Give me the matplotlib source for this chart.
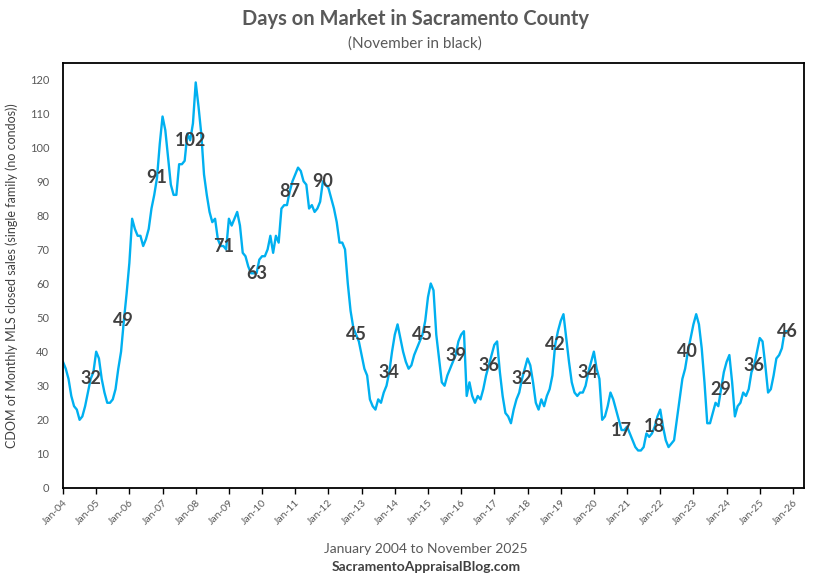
import matplotlib
matplotlib.use("Agg")
import matplotlib.pyplot as plt
import numpy as np

plt.rcParams['font.family'] = ['Lato', 'DejaVu Sans']

# monthly CDOM, Jan 2004 .. Nov 2025
y2004 = [37, 35, 32, 27, 24, 23, 20, 21, 24, 28, 32, 34]
y2005 = [40, 38, 32, 28, 25, 25, 26, 29, 35, 40, 49, 57]
y2006 = [66, 79, 76, 74, 74, 71, 73, 76, 82, 86, 91, 101]
y2007 = [109, 105, 97, 89, 86, 86, 95, 95, 96, 104, 102, 107]
y2008 = [119, 112, 104, 92, 86, 81, 78, 79, 73, 71, 71, 70]
y2009 = [79, 77, 79, 81, 77, 69, 68, 65, 63, 63, 63, 67]
y2010 = [68, 68, 70, 74, 69, 74, 72, 82, 83, 83, 87, 90]
y2011 = [92, 94, 93, 90, 89, 82, 83, 81, 82, 84, 90, 89]
y2012 = [88, 85, 82, 78, 72, 72, 70, 60, 52, 47, 45, 43]
y2013 = [39, 35, 33, 26, 24, 23, 26, 25, 28, 30, 34, 40]
y2014 = [45, 48, 44, 40, 37, 35, 36, 39, 41, 43, 45, 49]
y2015 = [56, 60, 58, 45, 38, 31, 30, 33, 35, 37, 39, 43]
y2016 = [45, 46, 27, 31, 27, 25, 27, 26, 29, 33, 36, 39]
y2017 = [42, 43, 34, 27, 22, 21, 19, 23, 26, 28, 32, 35]
y2018 = [38, 36, 31, 25, 23, 26, 24, 27, 29, 33, 42, 46]
y2019 = [49, 51, 44, 37, 31, 28, 27, 28, 28, 30, 34, 37]
y2020 = [40, 35, 32, 20, 21, 24, 28, 26, 23, 20, 17, 17]
y2021 = [18, 16, 14, 12, 11, 11, 12, 16, 15, 16, 18, 21]
y2022 = [23, 18, 14, 12, 13, 14, 20, 26, 32, 35, 40, 44]
y2023 = [48, 51, 48, 41, 31, 19, 19, 22, 25, 24, 29, 34]
y2024 = [37, 39, 31, 21, 24, 25, 28, 27, 29, 34, 36, 40]
y2025 = [44, 43, 36, 28, 29, 33, 38, 39, 41, 46, 46]

dom = (y2004 + y2005 + y2006 + y2007 + y2008 + y2009 + y2010 + y2011 +
       y2012 + y2013 + y2014 + y2015 + y2016 + y2017 + y2018 + y2019 +
       y2020 + y2021 + y2022 + y2023 + y2024 + y2025)
years = list(range(2004, 2027))
tick_labels = ['Jan-%02d' % (y % 100) for y in years]

months = np.arange(len(dom))
nov_idx = [i for i in months if i % 12 == 10]

fig = plt.figure(figsize=(8.3, 5.79), dpi=100)
ax = fig.add_axes([0.0759, 0.1572, 0.8928, 0.734])

ax.plot(months, dom, color='#00B0F0', linewidth=1.7)

for i in nov_idx:
    ax.text(i, dom[i], str(dom[i]), ha='center', va='center',
            fontsize=13, fontweight='bold', color='#404040')

ax.set_xlim(0, 268)
ax.set_ylim(0, 124.7)
ax.set_yticks(range(0, 121, 10))
ax.set_xticks([(y - 2004) * 12 for y in years])
ax.set_xticklabels(tick_labels, rotation=45, ha='right', rotation_mode='anchor')
ax.tick_params(axis='y', length=0, pad=10, labelsize=8, labelcolor='#595959')
ax.tick_params(axis='x', length=4, width=1, direction='out', pad=3,
               labelsize=7.5, labelcolor='#595959')
for s in ax.spines.values():
    s.set_linewidth(1.3)
    s.set_color('black')

ax.set_ylabel('CDOM of Monthly MLS closed sales (single family (no condos))',
              fontsize=9, color='#404040', labelpad=8)

fig.text(0.5, 0.968, 'Days on Market in Sacramento County', ha='center', va='center',
         fontsize=14.5, fontweight='bold', color='#595959')
fig.text(0.5, 0.924, '(November in black)', ha='center', va='center',
         fontsize=11, color='#595959')
fig.text(0.513, 0.052, 'January 2004 to November 2025', ha='center', va='center',
         fontsize=10, color='#595959')
fig.text(0.513, 0.020, 'SacramentoAppraisalBlog.com', ha='center', va='center',
         fontsize=10, fontweight='bold', color='#404040')

fig.savefig('out.png', dpi=100)
